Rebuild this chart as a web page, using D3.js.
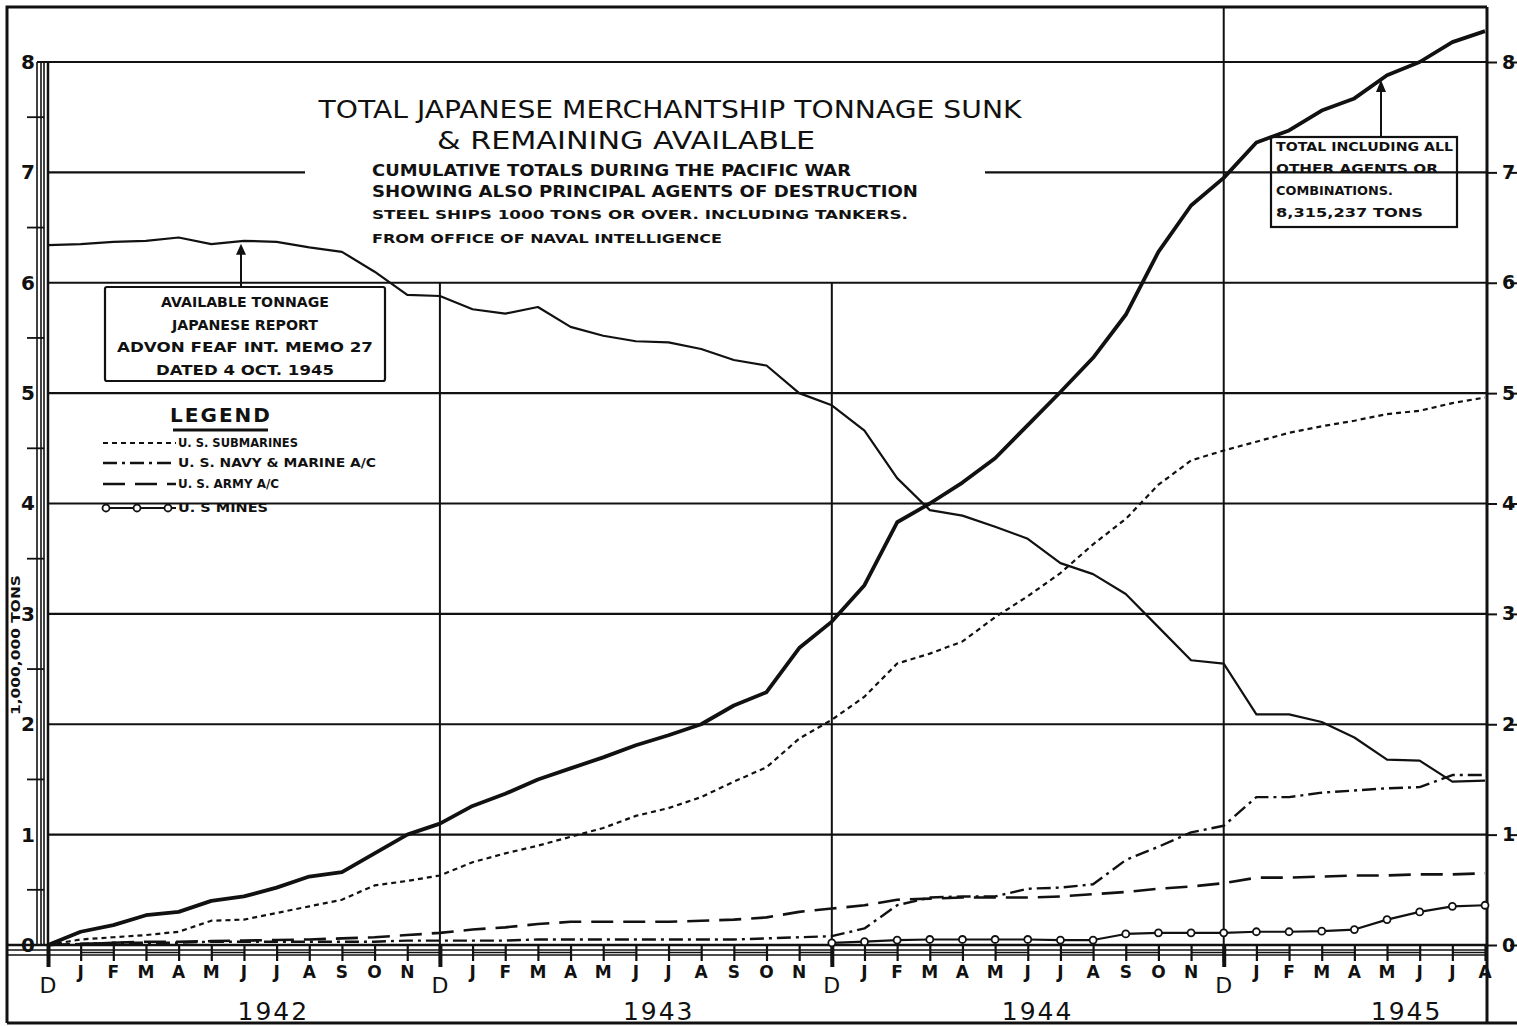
<!DOCTYPE html>
<html>
<head>
<meta charset="utf-8">
<script src="https://cdn.jsdelivr.net/npm/d3@7"></script>
<style>
  body { margin: 0; background: #fff; }
  svg { display: block; }
  text { font-family: "DejaVu Sans", sans-serif; fill: #111; }
</style>
</head>
<body>
<svg class="target"></svg>
<script>
// month index 0 = Dec 1941 ... 44 = Aug 1945
const monthLetters = ["J", "F", "M", "A", "M", "J", "J", "A", "S", "O", "N", "D"];
const years = ["1942", "1943", "1944", "1945"];
const yearPos = [6.9, 18.7, 30.3, 41.6];
const yTicks = [0, 1, 2, 3, 4, 5, 6, 7, 8];

const totalSunk = [0, 0.12, 0.18, 0.27, 0.30, 0.40, 0.44, 0.52, 0.62, 0.66, 0.83, 1.00,
  1.10, 1.26, 1.37, 1.50, 1.60, 1.70, 1.81, 1.90, 2.00, 2.17, 2.29, 2.69,
  2.93, 3.26, 3.83, 4.00, 4.19, 4.41, 4.71, 5.01, 5.32, 5.71, 6.28, 6.70,
  6.95, 7.27, 7.38, 7.56, 7.67, 7.88, 8.00, 8.18, 8.28];
const available = [6.34, 6.35, 6.37, 6.38, 6.41, 6.35, 6.38, 6.37, 6.32, 6.28, 6.10, 5.89,
  5.88, 5.76, 5.72, 5.78, 5.60, 5.52, 5.47, 5.46, 5.40, 5.30, 5.25, 5.00,
  4.89, 4.66, 4.23, 3.94, 3.89, 3.79, 3.68, 3.46, 3.36, 3.18, 2.88, 2.58,
  2.55, 2.09, 2.09, 2.02, 1.88, 1.68, 1.67, 1.48, 1.49];
const submarines = [0, 0.05, 0.07, 0.09, 0.12, 0.22, 0.23, 0.29, 0.35, 0.41, 0.54, 0.58,
  0.63, 0.75, 0.83, 0.90, 0.98, 1.06, 1.17, 1.24, 1.34, 1.48, 1.61, 1.87,
  2.04, 2.25, 2.55, 2.64, 2.75, 2.97, 3.16, 3.37, 3.63, 3.86, 4.17, 4.39,
  4.48, 4.56, 4.64, 4.70, 4.75, 4.81, 4.84, 4.91, 4.96];
const navyMarine = [0, 0.01, 0.02, 0.02, 0.02, 0.03, 0.03, 0.03, 0.03, 0.03, 0.03, 0.04,
  0.04, 0.04, 0.04, 0.05, 0.05, 0.05, 0.05, 0.05, 0.05, 0.05, 0.06, 0.07,
  0.08, 0.15, 0.36, 0.43, 0.44, 0.44, 0.51, 0.52, 0.55, 0.77, 0.89, 1.02,
  1.08, 1.34, 1.34, 1.38, 1.40, 1.42, 1.43, 1.54, 1.54];
const army = [0, 0.01, 0.02, 0.03, 0.03, 0.035, 0.04, 0.045, 0.05, 0.06, 0.07, 0.09,
  0.11, 0.14, 0.16, 0.19, 0.21, 0.21, 0.21, 0.21, 0.22, 0.23, 0.25, 0.30,
  0.33, 0.36, 0.41, 0.42, 0.43, 0.43, 0.43, 0.44, 0.46, 0.48, 0.51, 0.53,
  0.56, 0.61, 0.61, 0.62, 0.63, 0.63, 0.64, 0.64, 0.65];
const minesStart = 24;
const mines = [0.02, 0.03, 0.045, 0.05, 0.05, 0.05, 0.05, 0.045, 0.045, 0.10, 0.11, 0.11,
  0.11, 0.12, 0.12, 0.125, 0.14, 0.23, 0.30, 0.35, 0.36];

const width = 1517, height = 1026;
const svg = d3.select(".target")
  .attr("width", width)
  .attr("height", height)
  .attr("viewBox", [0, 0, width, height]);

svg.append("rect").attr("width", width).attr("height", height).attr("fill", "#fff");

const x = d3.scaleLinear().domain([0, 44]).range([48, 1485]);
const y = d3.scaleLinear().domain([0, 8]).range([945, 62]);
const left = 48, right = 1487;

// frame
svg.append("path")
  .attr("d", `M7,1023 L7,7 L${right},7 M7,1023 L1517,1023 M${right},7 L${right},1023`)
  .attr("fill", "none").attr("stroke", "#111").attr("stroke-width", 3);

// horizontal grid
yTicks.filter(d => d > 0).forEach(function(d) {
  if (d === 7) {
    svg.append("line").attr("x1", left).attr("x2", 305).attr("y1", y(d)).attr("y2", y(d))
      .attr("stroke", "#111").attr("stroke-width", 2.2);
    svg.append("line").attr("x1", 985).attr("x2", right).attr("y1", y(d)).attr("y2", y(d))
      .attr("stroke", "#111").attr("stroke-width", 2.2);
  } else {
    svg.append("line").attr("x1", d === 8 ? 37 : left).attr("x2", right).attr("y1", y(d)).attr("y2", y(d))
      .attr("stroke", "#111").attr("stroke-width", 2.2);
  }
});

// vertical December lines
[12, 24, 36].forEach(function(m) {
  svg.append("line")
    .attr("x1", x(m)).attr("x2", x(m))
    .attr("y1", m === 36 ? 7 : y(6)).attr("y2", 962)
    .attr("stroke", "#111").attr("stroke-width", 2);
});

// left scale strip
[37, 41, 44, 48].forEach(function(xx, i) {
  svg.append("line").attr("x1", xx).attr("x2", xx).attr("y1", y(8)).attr("y2", y(0))
    .attr("stroke", "#111").attr("stroke-width", i === 3 ? 2.5 : 1.6);
});
d3.range(0.5, 8, 1).forEach(function(d) {
  svg.append("line").attr("x1", 27).attr("x2", 44).attr("y1", y(d)).attr("y2", y(d))
    .attr("stroke", "#111").attr("stroke-width", 1.8);
});

// left axis labels
const leftAxis = d3.axisLeft(y).tickValues(yTicks).tickSize(0).tickPadding(0).tickFormat(d3.format("d"));
const gL = svg.append("g").attr("transform", "translate(35,0)").call(leftAxis);
gL.select(".domain").remove();
gL.selectAll("text").attr("font-size", 20).attr("font-weight", "bold")
  .attr("font-family", "DejaVu Sans").attr("fill", "#111");

// right axis labels
const rightAxis = d3.axisRight(y).tickValues(yTicks).tickSize(10).tickPadding(5).tickFormat(d3.format("d"));
const gR = svg.append("g").attr("transform", `translate(${right},0)`).call(rightAxis);
gR.select(".domain").remove();
gR.selectAll("line").attr("stroke", "#111").attr("stroke-width", 2);
gR.selectAll("text").attr("font-size", 19).attr("font-weight", "bold")
  .attr("font-family", "DejaVu Sans").attr("fill", "#111");
gR.selectAll(".tick").append("line").attr("x1", 23).attr("x2", 31).attr("stroke", "#111").attr("stroke-width", 2);

svg.append("text")
  .attr("transform", "translate(20,645) rotate(-90)")
  .attr("text-anchor", "middle").attr("font-size", 13).attr("font-weight", "bold")
  .attr("textLength", 140).attr("lengthAdjust", "spacingAndGlyphs")
  .text("1,000,000   TONS");

// bottom band
[945, 950, 955].forEach(function(yy, i) {
  svg.append("line").attr("x1", 7).attr("x2", right).attr("y1", yy).attr("y2", yy)
    .attr("stroke", "#111").attr("stroke-width", i === 0 ? 2.5 : 1.6);
});
d3.range(0, 44).filter(m => m % 2 === 1).forEach(function(m) {
  svg.append("line").attr("x1", x(m)).attr("x2", x(m + 1)).attr("y1", 952.5).attr("y2", 952.5)
    .attr("stroke", "#111").attr("stroke-width", 1.3);
});
const bottomAxis = d3.axisBottom(x).tickValues(d3.range(0, 45)).tickSize(16).tickFormat("");
const gB = svg.append("g").attr("transform", "translate(0,945)").call(bottomAxis);
gB.select(".domain").remove();
gB.selectAll("line").attr("stroke", "#111")
  .attr("stroke-width", d => d % 12 === 0 ? 4 : 2.2)
  .attr("y2", d => d % 12 === 0 ? 22 : 16);

// month labels
svg.append("g").selectAll("text")
  .data(d3.range(0, 45))
  .join("text")
  .attr("x", d => x(d))
  .attr("y", d => d % 12 === 0 ? 993 : 978)
  .attr("text-anchor", "middle")
  .attr("font-size", d => d % 12 === 0 ? 22 : 17)
  .attr("font-weight", d => d % 12 === 0 ? "normal" : "bold")
  .text(d => monthLetters[(d + 11) % 12]);

svg.append("g").selectAll("text")
  .data(years)
  .join("text")
  .attr("x", (d, i) => x(yearPos[i]))
  .attr("y", 1020)
  .attr("text-anchor", "middle")
  .attr("font-size", 25)
  .attr("letter-spacing", 2)
  .text(d => d);

// series
const line = d3.line().x((d, i) => x(i)).y(d => y(d));
const lineFrom = start => d3.line().x((d, i) => x(start + i)).y(d => y(d));

function drawSeries(data, w, dash, gen) {
  svg.append("path").datum(data)
    .attr("d", gen || line)
    .attr("fill", "none").attr("stroke", "#111")
    .attr("stroke-width", w)
    .attr("stroke-dasharray", dash)
    .attr("stroke-linejoin", "round");
}
drawSeries(army, 2.6, "22,10");
drawSeries(navyMarine, 2.4, "14,5,3,5");
drawSeries(submarines, 2.2, "5,4");
drawSeries(available, 2.2, null);
drawSeries(totalSunk, 3.8, null);
drawSeries(mines, 2.2, null, lineFrom(minesStart));
svg.append("g").selectAll("circle")
  .data(mines)
  .join("circle")
  .attr("cx", (d, i) => x(minesStart + i))
  .attr("cy", d => y(d))
  .attr("r", 3.5)
  .attr("fill", "#fff").attr("stroke", "#111").attr("stroke-width", 1.8);

// title block
const title = svg.append("g");
title.append("text").attr("x", 670).attr("y", 118).attr("text-anchor", "middle")
  .attr("font-size", 25).attr("textLength", 703).attr("lengthAdjust", "spacingAndGlyphs")
  .text("TOTAL JAPANESE MERCHANTSHIP TONNAGE SUNK");
title.append("text").attr("x", 626).attr("y", 149).attr("text-anchor", "middle")
  .attr("font-size", 25).attr("textLength", 378).attr("lengthAdjust", "spacingAndGlyphs")
  .text("& REMAINING AVAILABLE");
[
  ["CUMULATIVE TOTALS DURING THE PACIFIC WAR", 176, 15, 479],
  ["SHOWING ALSO PRINCIPAL AGENTS OF DESTRUCTION", 197, 15, 546],
  ["STEEL SHIPS 1000 TONS OR OVER. INCLUDING TANKERS.", 219, 12.5, 536],
  ["FROM OFFICE OF NAVAL INTELLIGENCE", 243, 11.5, 350]
].forEach(function(t) {
  title.append("text").attr("x", 372).attr("y", t[1])
    .attr("font-size", t[2]).attr("font-weight", "bold")
    .attr("textLength", t[3]).attr("lengthAdjust", "spacingAndGlyphs")
    .text(t[0]);
});

// available tonnage note
svg.append("rect").attr("x", 105).attr("y", 287).attr("width", 280).attr("height", 94)
  .attr("fill", "#fff").attr("stroke", "#111").attr("stroke-width", 2.2).attr("rx", 2);
[
  ["AVAILABLE  TONNAGE", 307, 168],
  ["JAPANESE  REPORT", 330, 146],
  ["ADVON  FEAF   INT. MEMO 27", 352, 256],
  ["DATED  4 OCT. 1945", 375, 178]
].forEach(function(t) {
  svg.append("text").attr("x", 245).attr("y", t[1]).attr("text-anchor", "middle")
    .attr("font-size", 14).attr("font-weight", "bold")
    .attr("textLength", t[2]).attr("lengthAdjust", "spacingAndGlyphs")
    .text(t[0]);
});
svg.append("line").attr("x1", 241).attr("x2", 241).attr("y1", 287).attr("y2", y(available[6]) + 6)
  .attr("stroke", "#111").attr("stroke-width", 2);
svg.append("path")
  .attr("d", `M236,${y(available[6]) + 14} L241,${y(available[6]) + 3} L246,${y(available[6]) + 14} Z`)
  .attr("fill", "#111");

// total note
svg.append("rect").attr("x", 1271).attr("y", 137).attr("width", 186).attr("height", 90)
  .attr("fill", "none").attr("stroke", "#111").attr("stroke-width", 2.2);
[
  ["TOTAL  INCLUDING ALL", 151, 177],
  ["OTHER  AGENTS   OR", 173, 162],
  ["COMBINATIONS.", 195, 117],
  ["8,315,237   TONS", 217, 147]
].forEach(function(t) {
  svg.append("text").attr("x", 1276).attr("y", t[1])
    .attr("font-size", 12).attr("font-weight", "bold")
    .attr("textLength", t[2]).attr("lengthAdjust", "spacingAndGlyphs")
    .text(t[0]);
});
svg.append("line").attr("x1", 1381).attr("x2", 1381).attr("y1", 137).attr("y2", 88)
  .attr("stroke", "#111").attr("stroke-width", 2);
svg.append("path").attr("d", "M1376,92 L1381,80 L1386,92 Z").attr("fill", "#111");

// legend
svg.append("text").attr("x", 221).attr("y", 422).attr("text-anchor", "middle")
  .attr("font-size", 20).attr("font-weight", "bold").attr("letter-spacing", 2)
  .text("LEGEND");
svg.append("line").attr("x1", 173).attr("x2", 268).attr("y1", 430).attr("y2", 430)
  .attr("stroke", "#111").attr("stroke-width", 3);
const legendItems = [
  { label: "U. S. SUBMARINES", dash: "5,4", w: 2.2, yy: 447, len: 120 },
  { label: "U. S. NAVY & MARINE  A/C", dash: "14,5,3,5", w: 2.4, yy: 467, len: 198 },
  { label: "U. S. ARMY  A/C", dash: "22,10", w: 2.6, yy: 488, len: 101 },
  { label: "U. S  MINES", dash: null, w: 2.2, yy: 512, len: 90 }
];
legendItems.forEach(function(d) {
  svg.append("line").attr("x1", 103).attr("x2", 176).attr("y1", d.yy - 4).attr("y2", d.yy - 4)
    .attr("stroke", "#111").attr("stroke-width", d.w).attr("stroke-dasharray", d.dash);
  svg.append("text").attr("x", 178).attr("y", d.yy)
    .attr("font-size", 12).attr("font-weight", "bold")
    .attr("textLength", d.len).attr("lengthAdjust", "spacingAndGlyphs")
    .text(d.label);
});
[106, 137, 168].forEach(function(cx) {
  svg.append("circle").attr("cx", cx).attr("cy", 508).attr("r", 3.5)
    .attr("fill", "#fff").attr("stroke", "#111").attr("stroke-width", 1.8);
});
</script>
</body>
</html>
